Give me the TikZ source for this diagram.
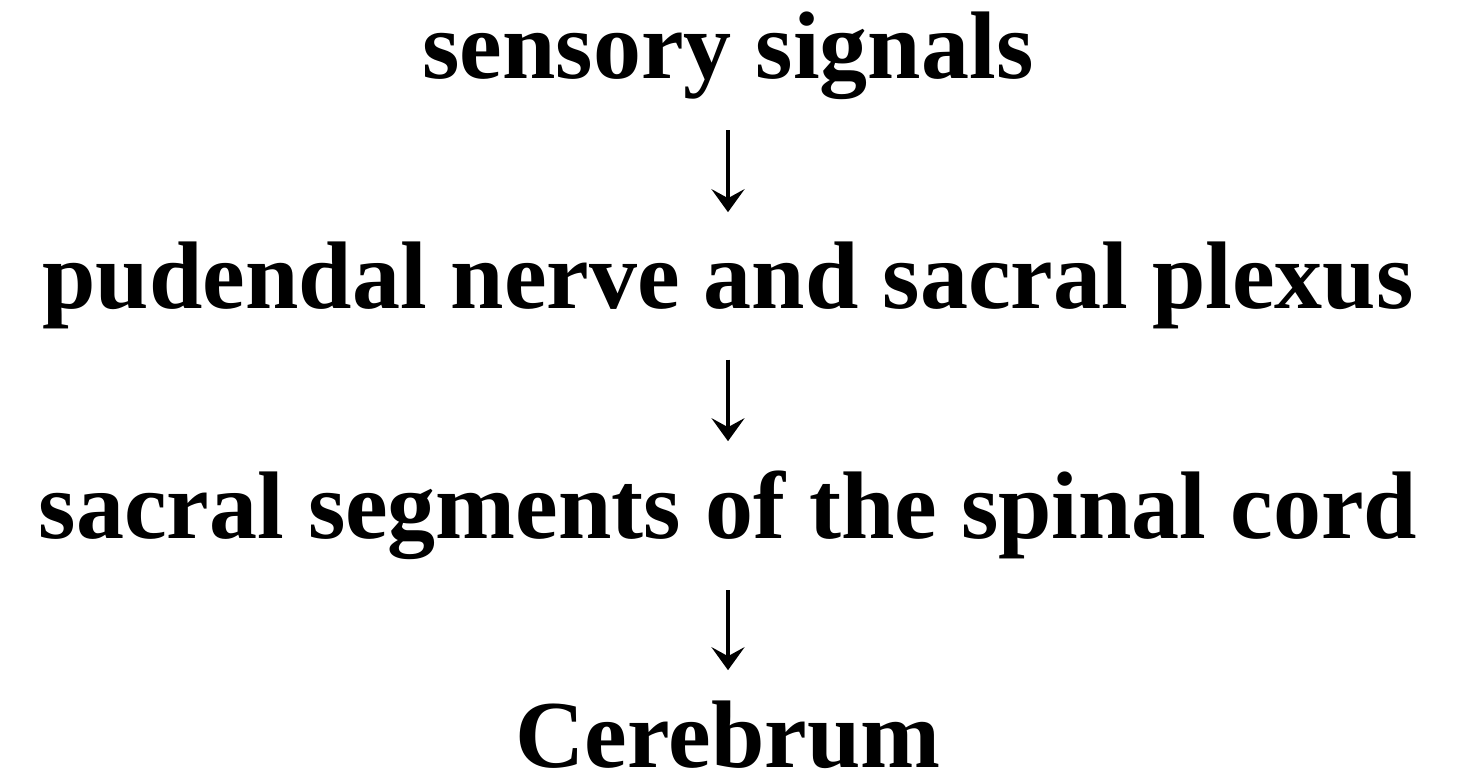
\documentclass[tikz,border=0pt]{standalone}
\usepackage{fontspec}
\setmainfont{Liberation Serif}
\usetikzlibrary{arrows.meta}
\begin{document}
\begin{tikzpicture}[x=1pt,y=1pt,
  lbl/.style={anchor=base, inner sep=0pt, font=\fontsize{96}{115}\selectfont\bfseries},
  flow/.style={line width=3.8pt, -{Stealth[length=23pt,width=33pt,inset=9pt]},
               shorten <=30pt, shorten >=30pt}]
\useasboundingbox (0,0) rectangle (1463,776);
\node[lbl] (s1) at (728,697) {sensory signals};
\node[lbl] (s2) at (728,467) {pudendal nerve and sacral plexus};
\node[lbl] (s3) at (728,237) {sacral segments of the spinal cord};
\node[lbl] (s4) at (728,9) {Cerebrum};
\draw[flow] (s1.south) -- (s2.north);
\draw[flow] (s2.south) -- (s3.north);
\draw[flow] (s3.south) -- (s4.north);
\end{tikzpicture}
\end{document}
